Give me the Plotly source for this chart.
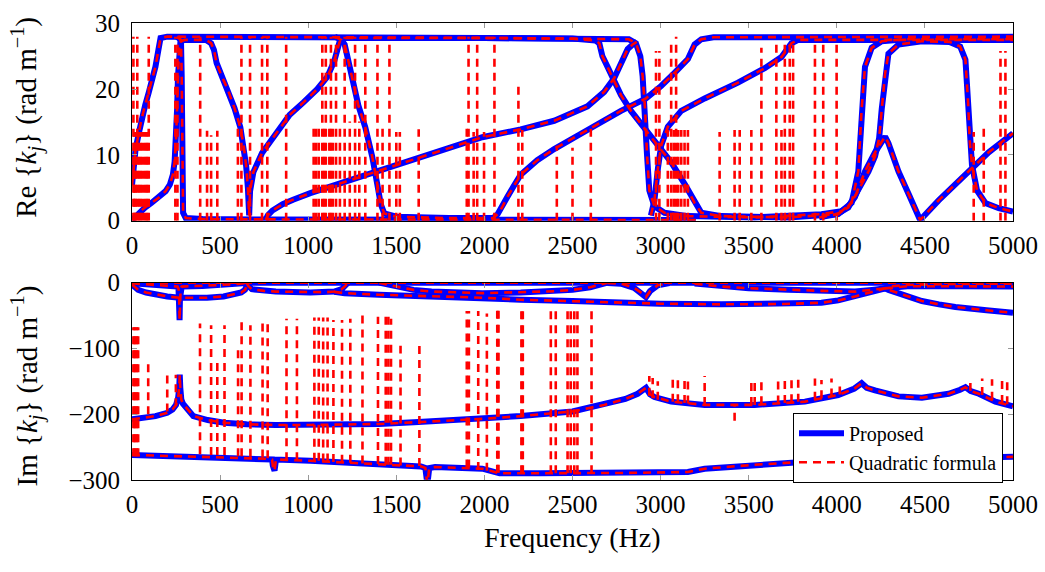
import plotly.graph_objects as go

# ---------------- data: Re{k_j} branches (frequency Hz, value rad/m) ----------------
re_a = [(0, 5.4), (10, 8.5), (20, 10.8), (40, 13.5), (55, 15.6), (75, 17.6), (95, 19.5), (115, 21.5),
        (133, 23.4), (150, 26.0), (162, 27.8), (200, 28.0), (600, 28.0), (1200, 27.9), (2000, 27.8),
        (2500, 27.7), (2630, 27.4), (2652, 27.0), (2670, 25.0), (2699, 23.4), (2737, 21.3), (2775, 19.1),
        (2832, 16.7), (2908, 14.0), (2984, 11.4), (3060, 8.9), (3136, 5.6), (3193, 2.7), (3231, 1.2),
        (3344, 0.7), (3724, 0.5), (4008, 1.0), (4065, 2.2), (4103, 3.6), (4160, 7.5), (4217, 10.4),
        (4274, 12.8), (4293, 11.8), (4350, 7.5), (4407, 4.1), (4473, 0.1), (4578, 3.1), (4672, 5.6),
        (4767, 8.0), (4862, 10.4), (5000, 13.3)]
re_c = [(0, 0.1), (20, 0.7), (50, 1.5), (74, 2.0), (110, 2.7), (152, 3.5), (191, 4.5), (215, 5.5),
        (232, 7.0), (242, 9.0), (250, 12.2), (256, 17.0), (261, 22.0), (266, 26.0), (275, 27.3),
        (300, 27.5), (420, 27.5), (449, 27.0), (465, 26.0), (480, 24.0), (504, 22.3), (543, 20.0),
        (582, 17.1), (615, 14.2), (635, 11.2), (648, 8.3), (658, 4.9), (665, 0.8), (670, 4.5), (689, 7.4),
        (738, 10.3), (816, 13.2), (895, 16.1), (973, 18.0), (1051, 20.0), (1109, 21.9), (1148, 24.3),
        (1178, 27.2), (1200, 27.8), (2000, 27.8), (2700, 27.7), (2820, 27.6), (2860, 27.0), (2885, 25.0),
        (2898, 22.0), (2912, 17.0), (2923, 10.0), (2936, 4.6), (2965, 2.2), (3022, 1.2), (3155, 0.7),
        (3534, 0.5), (3913, 1.0), (4027, 1.45), (4084, 2.7), (4122, 7.5), (4141, 17.0), (4160, 23.4),
        (4198, 26.3), (4255, 27.3), (4388, 27.6), (5000, 27.6)]
re_d = [(255, 28.0), (278, 27.5), (282, 22.0), (284, 14.0), (286, 5.0), (290, 1.2), (305, 0.4),
        (400, 0.25), (700, 0.2), (1400, 0.2), (2000, 0.2), (2600, 0.15), (3200, 0.1)]
re_g = [(1150, 28.0), (1188, 27.5), (1207, 26.8), (1246, 21.9), (1285, 17.5), (1324, 14.2), (1363, 9.8),
        (1393, 5.4), (1412, 2.5), (1432, 1.1), (1500, 0.6), (1800, 0.4), (2050, 0.4), (2075, 1.0),
        (2100, 2.0), (2130, 3.6), (2165, 5.2), (2206, 7.0), (2300, 9.2), (2396, 10.9), (2585, 13.8),
        (2775, 16.7), (2917, 18.6), (3003, 20.5), (3079, 22.5), (3155, 24.6), (3193, 26.8), (3231, 27.6),
        (3300, 27.9), (5000, 28.0)]
re_h = [(758, 0.1), (770, 0.8), (797, 1.55), (855, 2.5), (914, 3.2), (1012, 4.2), (1207, 5.9),
        (1402, 7.6), (1598, 9.3), (1793, 11.0), (1988, 12.7), (2206, 13.9), (2396, 15.2), (2585, 17.4),
        (2680, 19.6), (2737, 21.7), (2775, 23.9), (2813, 26.1), (2841, 26.8), (2865, 27.2)]
re_j = [(2945, 0.8), (2965, 3.1), (2985, 8.0), (3003, 11.4), (3041, 14.3), (3117, 16.7), (3250, 18.6),
        (3439, 21.0), (3591, 23.2), (3686, 24.9), (3743, 27.0), (3781, 27.5), (5000, 27.5)]
re_k = [(3900, 0.5), (4000, 1.0), (4065, 2.0), (4120, 4.5), (4180, 7.5), (4217, 9.8), (4240, 12.5),
        (4255, 17.0), (4274, 22.4), (4293, 25.4), (4350, 26.8), (4483, 27.3), (4640, 27.2), (4700, 26.5),
        (4730, 24.5), (4745, 18.0), (4755, 12.0), (4767, 8.5), (4796, 4.6), (4843, 2.7), (4919, 1.9),
        (5000, 1.4)]
re_branches = [re_a, re_c, re_d, re_g, re_h, re_j, re_k]

# quadratic-formula spurious jumps in Re: (frequency, low, high)
re_spikes = [(8, 0, 28), (14, 0, 13.5), (20, 0, 13.5), (30, 0, 28), (40, 0, 13.5), (50, 0, 13.5),
             (62, 0, 13.5), (75, 0, 13.5), (85, 0, 13.5), (95, 0, 28), (246, 0, 28), (258, 0, 28),
             (387, 0, 28), (426, 0, 13.7), (449, 0, 13.0), (484, 0, 13.7), (601, 0, 14.0), (621, 0, 28),
             (670, 0, 28), (738, 0, 28), (768, 0, 28), (875, 0, 28), (1031, 0, 14.4), (1045, 0, 14.4),
             (1060, 0, 14.4), (1080, 0, 28), (1090, 0, 14.4), (1100, 0, 28), (1120, 0, 14.4),
             (1129, 0, 28), (1140, 0, 14.4), (1158, 0, 28), (1180, 0, 14.4), (1207, 0, 28),
             (1236, 0, 15.1), (1266, 0, 28), (1290, 0, 15.1), (1324, 0, 28), (1393, 0, 28),
             (1422, 0, 14.0), (1461, 0, 28), (1500, 0, 13.5), (1520, 0, 13.5), (1627, 0, 13.9),
             (1900, 0, 14.0), (1910, 0, 28), (1939, 0, 13.5), (1959, 0, 28), (1998, 0, 13.5),
             (2057, 0, 28), (2193, 0, 20.5), (2215, 0, 13.8), (2411, 0, 11.4), (2500, 0, 11.1),
             (2604, 0, 14.5), (2974, 0, 25.8), (2993, 0, 25.8), (3041, 0, 13.8), (3060, 0, 27.0),
             (3075, 0, 13.8), (3088, 0, 28), (3100, 0, 13.8), (3117, 0, 13.8), (3136, 0, 13.8),
             (3155, 0, 13.8), (3335, 0, 13.5), (3420, 0, 13.8), (3449, 0, 13.8), (3515, 0, 13.8),
             (3572, 0, 26.3), (3657, 0, 27.5), (3686, 0, 13.8), (3705, 0, 27.5), (3733, 0, 27.5),
             (3752, 0, 27.3), (3876, 0, 27.5), (3923, 0, 27.0), (3999, 0, 27.0), (4777, 0, 13.5),
             (4834, 0, 14.0), (4929, 0, 25.8), (4957, 0, 25.8)]

# ---------------- data: Im{k_j} branches ----------------
im_a = [(0, 0.0), (5000, 0.0)]
im_b = [(0, -3), (15, -7), (35, -11), (80, -15), (133, -18), (200, -21), (270, -23), (350, -23.5),
        (426, -23), (520, -21), (582, -18), (620, -15), (641, -11), (650, -5), (660, 0)]
im_c = [(0, -1), (100, -3), (200, -5), (258, -6), (264, -9), (268, -25), (270, -57), (272, -25),
        (276, -9), (282, -6), (400, -5), (500, -3.5), (600, -2), (650, -0.5)]
im_d = [(650, 0), (660, -5), (680, -10), (750, -12.5), (816, -13.6), (1012, -15), (1100, -14.5),
        (1148, -13.6), (1190, -10), (1207, -6), (1226, 0)]
im_e = [(1148, -14), (1207, -16), (1402, -18.4), (1793, -21), (2000, -23), (2206, -26), (2500, -28),
        (2775, -30.6), (3000, -32), (3344, -33), (3700, -32.5), (3913, -30.6), (4008, -27), (4103, -21),
        (4200, -14), (4274, -8.7), (4293, -6), (4400, -3.5), (4700, -2), (5000, -1.5)]
im_f = [(3193, -1.5), (3344, -6), (3500, -8.5), (3724, -11), (3913, -12.5), (4103, -13.6), (4200, -11),
        (4274, -8.7), (4293, -11), (4400, -20), (4483, -28), (4580, -33), (4673, -37), (4850, -42),
        (5000, -46)]
im_g = [(1402, 0), (1450, -3), (1500, -6), (1598, -11), (1700, -13.5), (1988, -16), (2206, -15),
        (2400, -13), (2500, -11), (2600, -7), (2642, -4), (2699, 0)]
im_h = [(2700, -0.5), (2775, -1.5), (2850, -8), (2900, -17), (2917, -22), (2940, -13), (2984, -4),
        (3050, -0.5)]
im_i = [(4274, -8.7), (4400, -5.5), (4700, -5.5), (5000, -6)]
im_m = [(0, -208), (133, -203), (200, -198), (230, -193), (250, -186), (262, -175), (268, -160),
        (271, -140), (274, -160), (280, -178), (289, -184), (348, -203), (430, -209), (523, -213),
        (650, -215.5), (816, -216.5), (1012, -216.5), (1200, -216), (1402, -215), (1600, -212.5),
        (1793, -210), (2000, -207), (2206, -203), (2500, -196), (2680, -186), (2800, -177), (2870, -169),
        (2917, -160), (2940, -170), (2965, -174), (3060, -181), (3250, -186), (3534, -186), (3819, -181),
        (4008, -171), (4100, -161), (4141, -153), (4170, -160), (4217, -164), (4350, -173), (4483, -175),
        (4635, -169), (4700, -163), (4730, -159), (4760, -165), (4806, -169), (4900, -181), (5000, -188)]
im_n = [(0, -262), (426, -265), (777, -268), (795, -269), (799, -278), (803, -286), (809, -286),
        (813, -278), (817, -269), (1012, -271), (1402, -276), (1640, -279.5), (1665, -282), (1672, -298),
        (1676, -306), (1680, -298), (1687, -282), (1720, -280.5), (1988, -283), (2086, -290),
        (2316, -290), (2800, -289.5), (3155, -288), (3250, -283), (3534, -277), (3913, -271),
        (4500, -268), (5000, -265)]
im_branches = [im_a, im_b, im_c, im_d, im_e, im_f, im_g, im_h, im_i, im_m, im_n]

im_spikes = [(8, -264, -68), (14, -264, -68), (20, -264, -68), (28, -264, -68), (35, -264, -68),
             (92, -200, -120), (200, -196, -134),
             (249, -188, -140), (386, -261, -62), (449, -262, -65), (484, -262, -113), (525, -262, -65),
             (602, -264, -96), (622, -264, -60), (672, -265, -65), (741, -266, -62), (770, -267, -62),
             (877, -270, -55), (936, -270, -55), (1035, -271, -53), (1060, -271, -53), (1085, -272, -53),
             (1110, -272, -53), (1143, -273, -57), (1192, -274, -57), (1239, -274, -55), (1308, -275, -48),
             (1396, -276, -52), (1440, -277, -50), (1455, -277, -48), (1470, -277, -55), (1524, -278, -96),
             (1631, -279, -92), (1900, -281, -43), (1912, -281, -43), (1965, -285, -43), (2014, -286, -47),
             (2073, -289, -39), (2080, -289, -39), (2210, -290, -40), (2218, -290, -40), (2377, -290, -35),
             (2405, -290, -35), (2472, -290, -37), (2490, -290, -37), (2510, -290, -37), (2528, -290, -37),
             (2608, -290, -38), (2936, -172, -142), (2955, -176, -145), (2984, -178, -150),
             (3069, -181, -146), (3098, -182, -146), (3136, -183, -148), (3155, -184, -148),
             (3250, -186, -142), (3420, -210, -186), (3515, -186, -144), (3534, -186, -144),
             (3572, -185, -144), (3667, -184, -146), (3705, -183, -146), (3743, -182, -146),
             (3781, -181, -147), (3876, -178, -146), (3913, -176, -148), (3970, -173, -146),
             (4017, -170, -150), (4758, -165, -147), (4825, -171, -146), (4881, -178, -147),
             (4938, -183, -145), (4967, -185, -148)]

x_ticks = [0, 500, 1000, 1500, 2000, 2500, 3000, 3500, 4000, 4500, 5000]
re_ticks = [0, 10, 20, 30]
im_ticks = [-300, -200, -100, 0]

# ---------------- figure ----------------
W, H = 1045, 572
ML, MR = 132, 32
PW = W - ML - MR
FONT = "Liberation Serif, Times New Roman, DejaVu Serif, serif"
BLUE = "#0000ff"
RED = "#ff0000"


def spike_xy(spikes):
    xs, ys = [], []
    for f, lo, hi in spikes:
        xs += [f, f, None]
        ys += [lo, hi, None]
    return xs, ys


fig = go.Figure()
first = True
for axn, branches in (("", re_branches), ("2", im_branches)):
    for br in branches:
        fig.add_trace(go.Scatter(x=[p[0] for p in br], y=[p[1] for p in br], mode="lines",
                                 line=dict(color=BLUE, width=6), name="Proposed",
                                 legendgroup="p", showlegend=first,
                                 xaxis="x" + axn, yaxis="y" + axn, hoverinfo="skip"))
        first = False
first = True
for axn, branches, spikes in (("", re_branches, re_spikes), ("2", im_branches, im_spikes)):
    for br in branches:
        fig.add_trace(go.Scatter(x=[p[0] for p in br], y=[p[1] for p in br], mode="lines",
                                 line=dict(color=RED, width=2.6, dash="8px,6px"),
                                 name="Quadratic formula", legendgroup="q", showlegend=first,
                                 xaxis="x" + axn, yaxis="y" + axn, hoverinfo="skip"))
        first = False
    sx, sy = spike_xy(spikes)
    fig.add_trace(go.Scatter(x=sx, y=sy, mode="lines", connectgaps=False,
                             line=dict(color=RED, width=2.6, dash="8px,6px"),
                             name="Quadratic formula", legendgroup="q", showlegend=False,
                             xaxis="x" + axn, yaxis="y" + axn, hoverinfo="skip"))

axis_common = dict(showline=True, linecolor="black", linewidth=1, mirror="allticks", ticks="inside",
                   ticklen=5, tickcolor="#999999", showgrid=False, zeroline=False,
                   tickfont=dict(family=FONT, size=25, color="black"))

top_dom = [1 - 218 / H, 1 - 11 / H]
bot_dom = [1 - 490 / H, 1 - 283 / H]

fig.update_layout(
    width=W, height=H,
    margin=dict(l=ML, r=MR, t=0, b=0),
    paper_bgcolor="white", plot_bgcolor="white",
    font=dict(family=FONT, color="black"),
    xaxis=dict(domain=[0, 1], range=[0, 5000], tickvals=x_ticks, anchor="y",
               ticklabelstandoff=2, **axis_common),
    yaxis=dict(domain=top_dom, range=[0, 30], tickvals=re_ticks, anchor="x",
               ticklabelstandoff=6, **axis_common),
    xaxis2=dict(domain=[0, 1], range=[0, 5000], tickvals=x_ticks, anchor="y2",
                ticklabelstandoff=2, **axis_common),
    yaxis2=dict(domain=bot_dom, range=[-300, 0], tickvals=im_ticks, anchor="x2",
                ticklabelstandoff=6, **axis_common),
    showlegend=True,
    legend=dict(x=(1003 - ML) / PW, y=1 - 493 / H, xanchor="right", yanchor="bottom",
                bgcolor="white", bordercolor="black", borderwidth=1, itemwidth=45,
                font=dict(family=FONT, size=20, color="black"), tracegroupgap=0),
    annotations=[
        dict(text="Re {<i>k<sub>j</sub></i>} (rad m<sup>−1</sup>)", xref="paper", yref="paper",
             x=(27 - ML) / PW, y=1 - 110 / H, textangle=-90, showarrow=False,
             xanchor="center", yanchor="middle", font=dict(family=FONT, size=29, color="black")),
        dict(text="Im {<i>k<sub>j</sub></i>} (rad m<sup>−1</sup>)", xref="paper", yref="paper",
             x=(27 - ML) / PW, y=1 - 392 / H, textangle=-90, showarrow=False,
             xanchor="center", yanchor="middle", font=dict(family=FONT, size=29, color="black")),
        dict(text="Frequency (Hz)", xref="paper", yref="paper",
             x=(572 - ML) / PW, y=1 - 550 / H, showarrow=False,
             xanchor="center", yanchor="middle", font=dict(family=FONT, size=28, color="black")),
    ],
)

fig.write_html("out.html")
